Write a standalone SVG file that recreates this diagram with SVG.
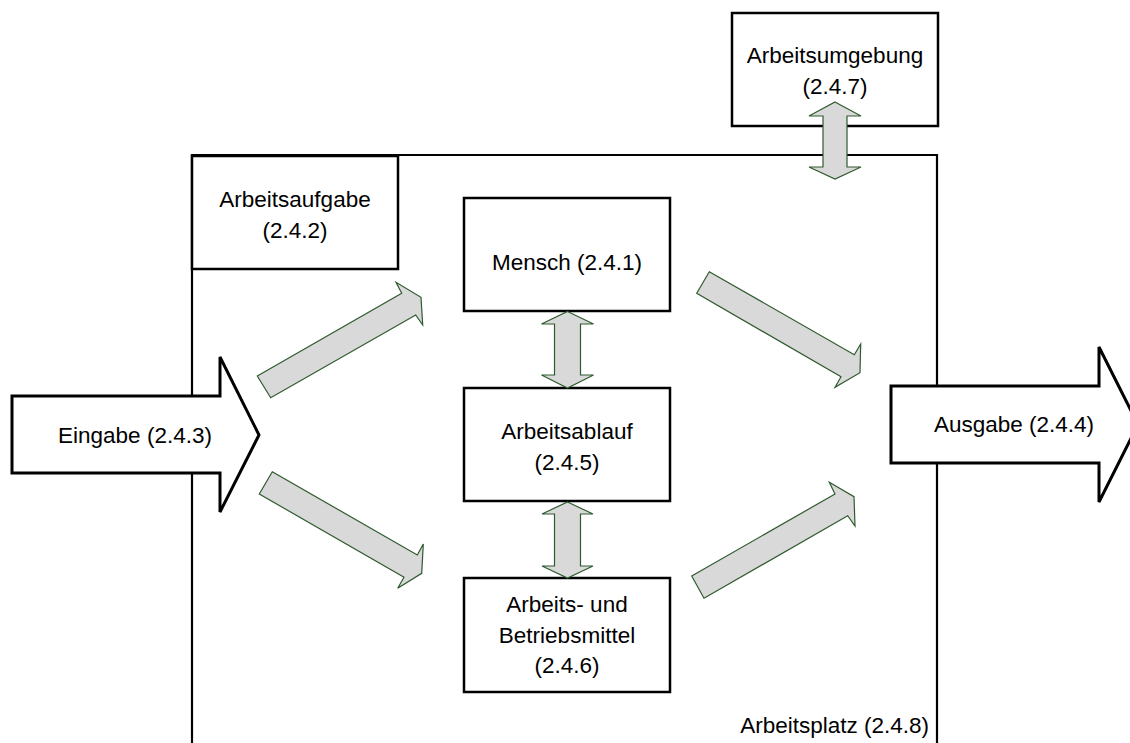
<svg xmlns="http://www.w3.org/2000/svg" width="1130" height="743" viewBox="0 0 1130 743">
  <style>
    .box { fill: #ffffff; stroke: #000000; stroke-width: 2.5; }
    .frame { fill: none; stroke: #000000; stroke-width: 2.2; }
    .big { fill: #ffffff; stroke: #000000; stroke-width: 3; stroke-linejoin: miter; }
    .flow { fill: #d9d9d9; stroke: #2f5a2f; stroke-width: 1.2; stroke-linejoin: miter; }
    text { font-family: "Liberation Sans", Arial, sans-serif; font-size: 22.5px; fill: #000000; text-anchor: middle; }
  </style>
  <rect width="1130" height="743" fill="#ffffff"/>

  <g id="arbeitsplatz">
    <path class="frame" d="M192,746 V155 H937 V746"/>
    <text x="929" y="733" style="text-anchor:end">Arbeitsplatz (2.4.8)</text>
  </g>

  <g id="arbeitsaufgabe">
    <rect class="box" x="192" y="156" width="206" height="113"/>
    <text x="295" y="207">Arbeitsaufgabe</text>
    <text x="295" y="238">(2.4.2)</text>
  </g>

  <g id="arbeitsumgebung">
    <rect class="box" x="732" y="13" width="206" height="113"/>
    <text x="835" y="63">Arbeitsumgebung</text>
    <text x="835" y="94">(2.4.7)</text>
  </g>

  <g id="mensch">
    <rect class="box" x="464" y="198" width="206" height="113"/>
    <text x="567" y="270">Mensch (2.4.1)</text>
  </g>

  <g id="arbeitsablauf">
    <rect class="box" x="464" y="388" width="206" height="113"/>
    <text x="567" y="439">Arbeitsablauf</text>
    <text x="567" y="470">(2.4.5)</text>
  </g>

  <g id="betriebsmittel">
    <rect class="box" x="464" y="578" width="206" height="114"/>
    <text x="567" y="612">Arbeits- und</text>
    <text x="567" y="643">Betriebsmittel</text>
    <text x="567" y="673">(2.4.6)</text>
  </g>

  <g id="eingabe">
    <path class="big" d="M12,396 H220 V357 L259,435 L220,512 V473 H12 Z"/>
    <text x="135" y="443">Eingabe (2.4.3)</text>
  </g>

  <g id="ausgabe">
    <path class="big" d="M891,386 H1099 V347 L1138,424.5 L1099,502 V463 H891 Z"/>
    <text x="1014" y="432">Ausgabe (2.4.4)</text>
  </g>

  <g id="connectors">
    <!-- Arbeitsumgebung <-> Arbeitsplatz -->
    <path class="flow" d="M835,102 L861,116 H847 V167 H861 L835,179 L809,167 H823 V116 H809 Z"/>
    <!-- Mensch <-> Arbeitsablauf -->
    <path class="flow" d="M567.5,311.5 L593.5,324 H580.5 V375 H593.5 L567.5,388 L541.5,375 H554.5 V324 H541.5 Z"/>
    <!-- Arbeitsablauf <-> Betriebsmittel -->
    <path class="flow" d="M567.5,502 L593,514 H580.5 V566 H593 L567.5,578 L542,566 H554.5 V514 H542 Z"/>
    <!-- Eingabe -> Mensch -->
    <path class="flow" d="M257.3,376 L401.7,293.3 L396,282.3 L421,297.3 L422.7,325 L415.7,315 L270.7,397.7 Z"/>
    <!-- Eingabe -> Betriebsmittel -->
    <path class="flow" d="M272.3,471.7 L417.3,555 L423.3,544 L421.7,573.3 L397.7,588.3 L404,577.3 L259.3,494 Z"/>
    <!-- Mensch -> Ausgabe -->
    <path class="flow" d="M709.3,271.7 L854.3,354.7 L860.7,344 L860,372.7 L835,387.3 L841,376.7 L696.7,293.3 Z"/>
    <!-- Betriebsmittel -> Ausgabe -->
    <path class="flow" d="M691.7,576 L835,494 L829.3,482.3 L854,496.7 L855,526 L847.7,515.7 L704,598.3 Z"/>
  </g>
</svg>
